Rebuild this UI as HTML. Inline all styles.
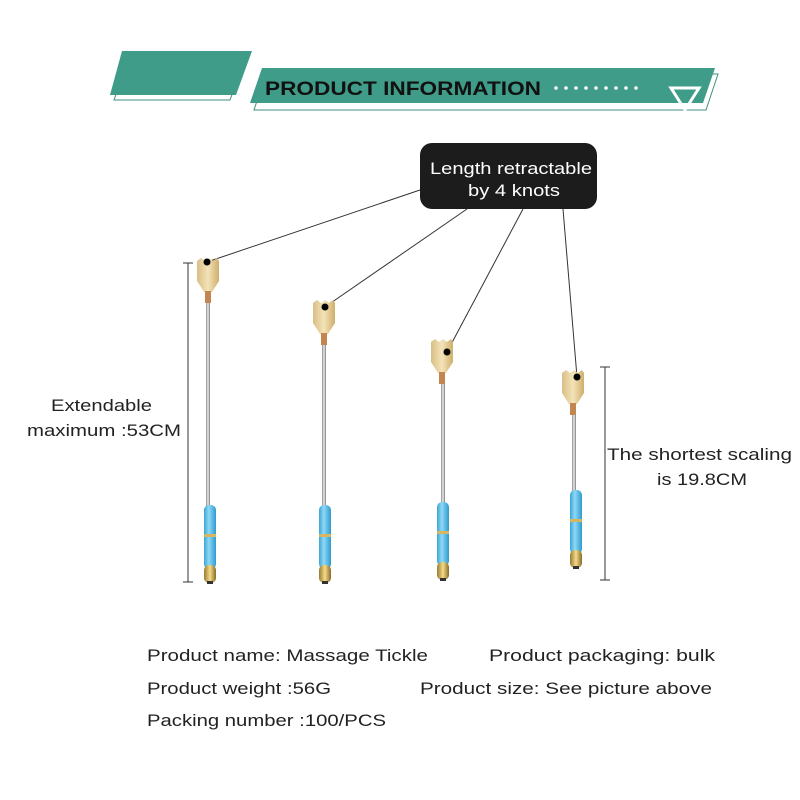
<!DOCTYPE html>
<html><head><meta charset="utf-8"><style>
body{margin:0;background:#fff;width:800px;height:800px;overflow:hidden}
svg{display:block}
text{font-family:"Liberation Sans","DejaVu Sans",sans-serif}
</style></head><body>
<svg width="800" height="800" viewBox="0 0 800 800">
<defs>
<linearGradient id="st" x1="0" x2="1"><stop offset="0" stop-color="#888"/><stop offset=".5" stop-color="#eee"/><stop offset="1" stop-color="#777"/></linearGradient>
<linearGradient id="bl" x1="0" x2="1"><stop offset="0" stop-color="#3aa6d6"/><stop offset=".4" stop-color="#8fd8f5"/><stop offset="1" stop-color="#2e9bcf"/></linearGradient>
<linearGradient id="hd" x1="0" x2="1"><stop offset="0" stop-color="#d9bf86"/><stop offset=".5" stop-color="#f3e3b8"/><stop offset="1" stop-color="#cfae6c"/></linearGradient>
<linearGradient id="gd" x1="0" x2="1"><stop offset="0" stop-color="#9a7a30"/><stop offset=".5" stop-color="#f3dc8a"/><stop offset="1" stop-color="#8a6a25"/></linearGradient>
<g id="stick">
<path d="M-11,0 L-7,-3 L-3,0 L1,-3 L5,0 L9,-3 L11,0 L11,20 L4,31 L-4,31 L-11,20 Z" fill="url(#hd)"/>
<rect x="-3" y="30" width="6" height="12" fill="#c48650"/>
</g>
<g id="handle">
<rect x="-6" y="0" width="12" height="64" rx="5" fill="url(#bl)"/>
<rect x="-6" y="29" width="12" height="3" fill="#d8b560"/>
<rect x="-6" y="60" width="12" height="18" rx="5" fill="url(#gd)"/>
<rect x="-3" y="76" width="6" height="3" fill="#333"/>
</g>
</defs>
<!-- banner -->
<polygon points="114,100 230,100 246,56 130,56" fill="none" stroke="#3f8f80" stroke-width="1"/>
<polygon points="122,51 252,51 236,95 110,95" fill="#3f9c88"/>
<polygon points="266,74 718,74 706,110 254,110" fill="none" stroke="#3f8f80" stroke-width="1"/>
<polygon points="262,68 715,68 703,103 250,103" fill="#3f9c88"/>
<text x="265" y="95" font-size="19" font-weight="bold" fill="#111" textLength="276" lengthAdjust="spacingAndGlyphs">PRODUCT  INFORMATION</text>
<g fill="#fff"><circle cx="556" cy="88" r="1.8"/><circle cx="566" cy="88" r="1.8"/><circle cx="576" cy="88" r="1.8"/><circle cx="586" cy="88" r="1.8"/><circle cx="596" cy="88" r="1.8"/><circle cx="606" cy="88" r="1.8"/><circle cx="616" cy="88" r="1.8"/><circle cx="626" cy="88" r="1.8"/><circle cx="636" cy="88" r="1.8"/></g>
<polygon points="671,88 699,88 685,110" fill="none" stroke="#fff" stroke-width="3"/>
<!-- callout -->
<rect x="420" y="143" width="177" height="66" rx="12" fill="#1c1c1c"/>
<text x="430" y="174" font-size="17" fill="#fff" textLength="162" lengthAdjust="spacingAndGlyphs">Length retractable</text>
<text x="468" y="196" font-size="17" fill="#fff" textLength="92" lengthAdjust="spacingAndGlyphs">by 4 knots</text>
<g stroke="#333" stroke-width="1">
<line x1="420" y1="190" x2="207" y2="262"/>
<line x1="467" y1="209" x2="325" y2="307"/>
<line x1="523" y1="209" x2="447" y2="352"/>
<line x1="563" y1="209" x2="577" y2="377"/>
</g>
<!-- sticks -->
<rect x="206" y="300" width="4" height="208" fill="url(#st)"/>
<use href="#stick" x="208" y="261"/><use href="#handle" x="210" y="505"/>
<rect x="322" y="342" width="4" height="166" fill="url(#st)"/>
<use href="#stick" x="324" y="303"/><use href="#handle" x="325" y="505"/>
<rect x="441" y="380" width="4" height="125" fill="url(#st)"/>
<use href="#stick" x="442" y="342"/><use href="#handle" x="443" y="502"/>
<rect x="572" y="414" width="4" height="78" fill="url(#st)"/>
<use href="#stick" x="573" y="373"/><use href="#handle" x="576" y="490"/>
<g fill="#000"><circle cx="207" cy="262" r="3.5"/><circle cx="325" cy="307" r="3.5"/><circle cx="447" cy="352" r="3.5"/><circle cx="577" cy="377" r="3.5"/></g>
<!-- dimension lines -->
<g stroke="#333" stroke-width="1">
<line x1="188" y1="263" x2="188" y2="582"/><line x1="183" y1="263" x2="193" y2="263"/><line x1="183" y1="582" x2="193" y2="582"/>
<line x1="605" y1="367" x2="605" y2="580"/><line x1="600" y1="367" x2="610" y2="367"/><line x1="600" y1="580" x2="610" y2="580"/>
</g>
<g font-size="17" fill="#222">
<text x="51" y="411" textLength="101" lengthAdjust="spacingAndGlyphs">Extendable</text>
<text x="27" y="436" textLength="154" lengthAdjust="spacingAndGlyphs">maximum :53CM</text>
<text x="607" y="460" textLength="185" lengthAdjust="spacingAndGlyphs">The shortest scaling</text>
<text x="657" y="485" textLength="90" lengthAdjust="spacingAndGlyphs">is 19.8CM</text>
<text x="147" y="661" textLength="281" lengthAdjust="spacingAndGlyphs">Product name: Massage Tickle</text>
<text x="489" y="661" textLength="226" lengthAdjust="spacingAndGlyphs">Product packaging: bulk</text>
<text x="147" y="694" textLength="184" lengthAdjust="spacingAndGlyphs">Product weight :56G</text>
<text x="420" y="694" textLength="292" lengthAdjust="spacingAndGlyphs">Product size: See picture above</text>
<text x="147" y="726" textLength="239" lengthAdjust="spacingAndGlyphs">Packing number :100/PCS</text>
</g>
</svg>
</body></html>
